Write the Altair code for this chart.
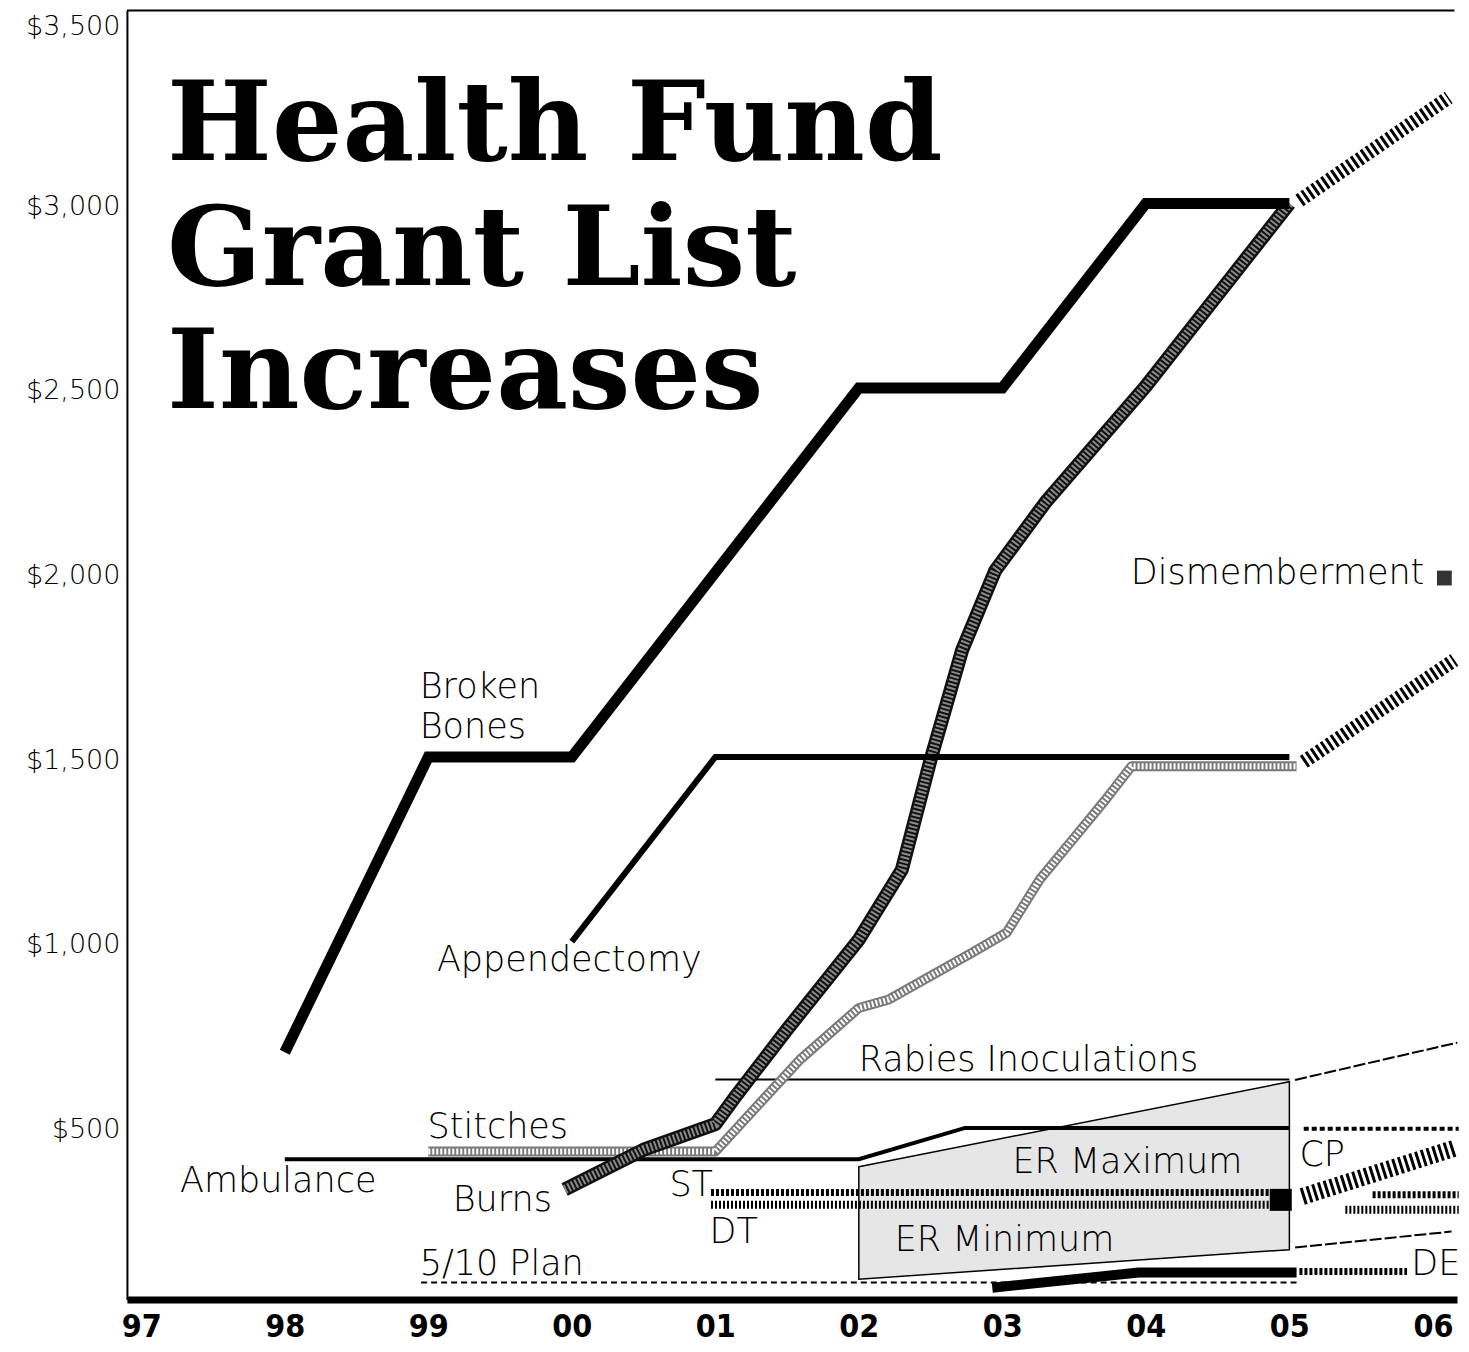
import altair as alt
import pandas as pd

# ---------------- data (x in years, values in dollars) ----------------
years = [1997, 1998, 1999, 2000, 2001, 2002, 2003, 2004, 2005, 2006]
y_ticks = [500, 1000, 1500, 2000, 2500, 3000, 3500]

broken_x = [1998, 1999, 2000, 2002, 2003, 2004, 2005]
broken_v = [700, 1500, 1500, 2500, 2500, 3000, 3000]

append_x = [2000, 2001, 2005]
append_v = [1000, 1500, 1500]

burns_x = [1999.95, 2000.5, 2001.0, 2001.15, 2001.5, 2002.0, 2002.3, 2002.5, 2002.72, 2002.95, 2003.3, 2004.0, 2005.0]
burns_v = [328, 436, 505, 585, 762, 1005, 1195, 1493, 1790, 2005, 2190, 2505, 3000]

stitch_x = [1999.0, 2001.0, 2001.59, 2002.0, 2002.21, 2002.79, 2003.03, 2003.26, 2003.49, 2003.72, 2003.9, 2005.05]
stitch_v = [431, 431, 680, 820, 843, 970, 1024, 1168, 1276, 1385, 1475, 1475]

amb_x = [1998, 2002, 2002.74, 2005]
amb_v = [410, 410, 495, 495]

rabies_x = [2001, 2005]
rabies_v = [626, 626]

plan_x = [1998.95, 2005.05]
plan_v = [76, 76]

st_x = [2000.97, 2004.86]
st_v = [320, 320]
dt_x = [2000.97, 2004.86]
dt_v = [287, 287]

de_x = [2002.93, 2003.95, 2005.05]
de_v = [62, 103, 103]

er_x = [2002, 2005]
er_max = [390, 620]
er_min = [85, 165]

# projections beyond 2005
dism_proj_x = [2005.07, 2006.11]
dism_proj_v = [3008, 3287]
app_proj_x = [2005.10, 2006.15]
app_proj_v = [1487, 1763]
rab_proj_x = [2005.04, 2006.17]
rab_proj_v = [625, 726]
amb_proj_x = [2005.10, 2006.18]
amb_proj_v = [493, 493]
cp_x = [2005.09, 2006.16]
cp_v = [309, 441]
st_proj_x = [2005.58, 2006.18]
st_proj_v = [314, 314]
dt_proj_x = [2005.39, 2006.18]
dt_proj_v = [273, 273]
ermin_proj_x = [2005.04, 2006.13]
ermin_proj_v = [171, 214]
de_proj_x = [2005.07, 2005.82]
de_proj_v = [106, 106]

square_x = [2004.94]
square_v = [300]
swatch_x = [2006.08]
swatch_v = [1985]

label_text = ["Broken", "Bones", "Appendectomy", "Rabies Inoculations", "Stitches",
              "Ambulance", "Burns", "ST", "DT", "5/10 Plan", "ER Maximum",
              "ER Minimum", "CP", "DE"]
label_x = [1998.94, 1998.94, 1999.06, 2002.0, 1998.995, 1997.27, 1999.17, 2000.68,
           2000.96, 1998.94, 2003.07, 2002.25, 2005.07, 2005.85]
label_v = [1690, 1581, 950, 680, 498, 352, 300, 341, 214, 125, 403, 192, 422, 125]

right_label_text = ["Dismemberment"]
right_label_x = [2005.94]
right_label_v = [1998]

title_lines = ["Health Fund", "Grant List", "Increases"]
title_x = [1997.18, 1997.18, 1997.18]
title_v = [3117, 2778, 2445]

frame_x = [1996.90]
frame_x2 = [2006.15]
frame_v = [3523]

# ---------------- scales / encodings ----------------
X_DOMAIN = [1996.90, 2006.168]
Y_DOMAIN = [29.8, 3523]

xscale = alt.Scale(domain=X_DOMAIN, nice=False, zero=False)
yscale = alt.Scale(domain=Y_DOMAIN, nice=False, zero=False)

xaxis = alt.Axis(values=years, labelExpr="substring(toString(datum.value), 2)",
                 ticks=False, grid=False, domainWidth=7, domainColor="black",
                 labelFont="Liberation Sans Narrow, DejaVu Sans Condensed, Liberation Sans",
                 labelFontSize=32, labelFontWeight="bold", labelColor="black",
                 labelPadding=12, labelFlush=False, labelOverlap=False, title=None)
yaxis = alt.Axis(values=y_ticks, format="$,d", ticks=False, grid=False,
                 domainWidth=2, domainColor="black", labelFont="DejaVu Sans",
                 labelFontSize=27, labelFontWeight=200, labelColor="black",
                 labelPadding=7,
                 labelOffset={"condition": {"test": "datum.value >= 3500", "value": 8},
                              "value": 3},
                 labelFlush=False, labelOverlap=False, title=None)

X = alt.X("x:Q", scale=xscale, axis=xaxis)
Y = alt.Y("v:Q", scale=yscale, axis=yaxis)


def line(xs, vs, **kw):
    df = pd.DataFrame({"x": xs, "v": vs})
    kw.setdefault("color", "black")
    kw.setdefault("strokeCap", "butt")
    kw.setdefault("strokeJoin", "miter")
    return alt.Chart(df).mark_line(clip=False, **kw).encode(x=X, y=Y)


er_df = pd.DataFrame({"x": er_x, "v": er_max, "lo": er_min})
er_area = alt.Chart(er_df).mark_area(fill="#e6e6e6", stroke="black", strokeWidth=1.5,
                                     opacity=1).encode(x=X, y=Y, y2=alt.Y2("lo:Q"))

frame_df = pd.DataFrame({"x": frame_x, "x2": frame_x2, "v": frame_v})
frame = alt.Chart(frame_df).mark_rule(color="black", strokeWidth=2, clip=False).encode(
    x=X, x2=alt.X2("x2:Q"), y=Y)

layers = [
    er_area,
    frame,
    line(plan_x, plan_v, strokeWidth=2, strokeDash=[6, 4]),
    line(rabies_x, rabies_v, strokeWidth=2),
    line(st_x, st_v, strokeWidth=7, strokeDash=[3, 2]),
    line(dt_x, dt_v, strokeWidth=8, strokeDash=[2, 2]),
    line(de_x, de_v, strokeWidth=10),
    # Stitches: light cross-hatched band
    line(stitch_x, stitch_v, strokeWidth=10, color="#7a7a7a", strokeJoin="round"),
    line(stitch_x, stitch_v, strokeWidth=6, color="white", strokeDash=[2, 2],
         strokeJoin="round"),
    line(amb_x, amb_v, strokeWidth=4),
    # Burns: dark cross-hatched band
    line(burns_x, burns_v, strokeWidth=14, color="#111111", strokeJoin="round"),
    line(burns_x, burns_v, strokeWidth=9, color="#8a8a8a", strokeDash=[2, 2],
         strokeJoin="round"),
    line(append_x, append_v, strokeWidth=6),
    line(broken_x, broken_v, strokeWidth=11),
    # projections
    line(dism_proj_x, dism_proj_v, strokeWidth=14, strokeDash=[3, 3]),
    line(app_proj_x, app_proj_v, strokeWidth=14, strokeDash=[3, 3]),
    line(rab_proj_x, rab_proj_v, strokeWidth=2, strokeDash=[12, 3]),
    line(amb_proj_x, amb_proj_v, strokeWidth=4, strokeDash=[5, 3]),
    line(cp_x, cp_v, strokeWidth=17, strokeDash=[3, 3]),
    line(st_proj_x, st_proj_v, strokeWidth=7, strokeDash=[3, 2]),
    line(dt_proj_x, dt_proj_v, strokeWidth=8, strokeDash=[2, 2]),
    line(ermin_proj_x, ermin_proj_v, strokeWidth=2, strokeDash=[12, 3]),
    line(de_proj_x, de_proj_v, strokeWidth=7, strokeDash=[3, 2]),
    alt.Chart(pd.DataFrame({"x": square_x, "v": square_v})).mark_square(
        size=484, color="black", filled=True, opacity=1).encode(x=X, y=Y),
    alt.Chart(pd.DataFrame({"x": swatch_x, "v": swatch_v})).mark_square(
        size=220, color="#333333", filled=True, opacity=1, clip=False).encode(x=X, y=Y),
    alt.Chart(pd.DataFrame({"x": label_x, "v": label_v, "t": label_text})).mark_text(
        align="left", baseline="middle", font="DejaVu Sans", fontSize=35,
        fontWeight=200, color="black").encode(x=X, y=Y, text="t:N"),
    alt.Chart(pd.DataFrame({"x": right_label_x, "v": right_label_v,
                            "t": right_label_text})).mark_text(
        align="right", baseline="middle", font="DejaVu Sans", fontSize=35,
        fontWeight=200, color="black").encode(x=X, y=Y, text="t:N"),
    alt.Chart(pd.DataFrame({"x": title_x, "v": title_v, "t": title_lines})).mark_text(
        align="left", baseline="alphabetic", font="DejaVu Serif", fontSize=111,
        fontWeight="bold", color="black").encode(x=X, y=Y, text="t:N"),
]

chart = alt.layer(*layers).properties(
    width=1331, height=1290,
    autosize=alt.AutoSizeParams(type="none"),
    padding={"left": 119, "top": 2, "right": 4, "bottom": 50},
    background="white",
).configure_view(stroke=None)

chart.save("out.html", embed_options={"renderer": "svg", "actions": False})
